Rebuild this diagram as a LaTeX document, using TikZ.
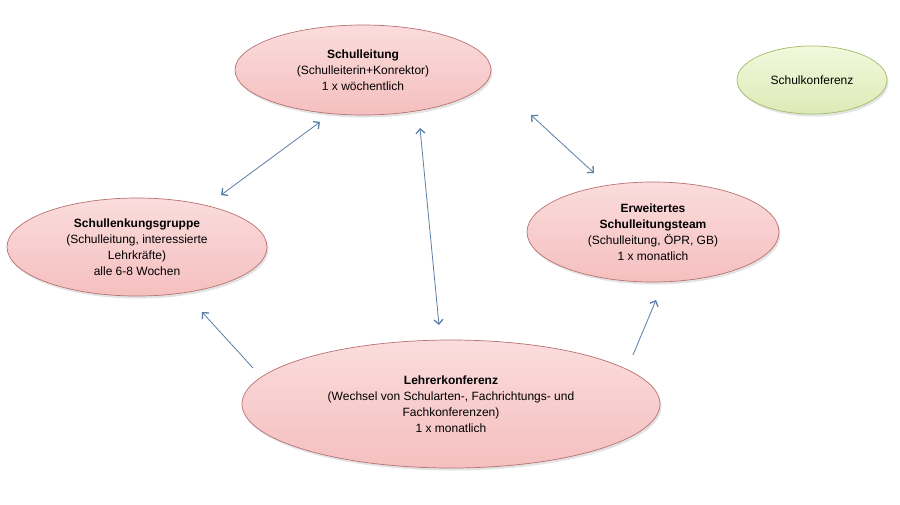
\documentclass[tikz,border=0pt]{standalone}
\usepackage{fontspec}
\setmainfont{Liberation Sans}
\usetikzlibrary{shapes.geometric,arrows.meta,shadows,calc}
\definecolor{pinktop}{HTML}{FBDCDC}
\definecolor{pinkbot}{HTML}{F5BFBF}
\definecolor{pinkline}{HTML}{B87272}
\definecolor{greentop}{HTML}{F2F8DC}
\definecolor{greenbot}{HTML}{DDEAB6}
\definecolor{greenline}{HTML}{A3BC68}
\definecolor{arrowblue}{HTML}{5A7EA6}
\tikzset{
  ell/.style={ellipse, inner sep=0pt, align=center, line width=0.7pt,
    font=\fontsize{12}{16}\selectfont,
    drop shadow={shadow xshift=1.5pt, shadow yshift=-2.5pt, opacity=0.22}},
  pinkell/.style={ell, draw=pinkline, top color=pinktop, bottom color=pinkbot},
  greenell/.style={ell, draw=greenline, top color=greentop, bottom color=greenbot},
  dblarr/.style={draw=arrowblue, line width=0.8pt, {Straight Barb[length=4.5pt,width=9pt,line width=1.3pt]}-{Straight Barb[length=4.5pt,width=9pt,line width=1.3pt]}},
  sglarr/.style={draw=arrowblue, line width=0.8pt, -{Straight Barb[length=4.5pt,width=9pt,line width=1.3pt]}}
}
\begin{document}
\begin{tikzpicture}[x=1pt,y=-1pt]
\useasboundingbox[fill=white] (0,0) rectangle (900,504);
\node[pinkell, minimum width=256pt, minimum height=90pt] (sl) at (363,70)
  {\textbf{Schulleitung}\\(Schulleiterin+Konrektor)\\1 x wöchentlich};
\node[greenell, minimum width=150pt, minimum height=68pt] (sk) at (812,80)
  {Schulkonferenz};
\node[pinkell, minimum width=260pt, minimum height=98pt] (slg) at (137,247)
  {\textbf{Schullenkungsgruppe}\\(Schulleitung, interessierte\\Lehrkräfte)\\alle 6-8 Wochen};
\node[pinkell, minimum width=252pt, minimum height=100pt] (ews) at (653,232)
  {\textbf{Erweitertes}\\\textbf{Schulleitungsteam}\\(Schulleitung, ÖPR, GB)\\1 x monatlich};
\node[pinkell, minimum width=418pt, minimum height=128pt] (lk) at (451,404)
  {\textbf{Lehrerkonferenz}\\(Wechsel von Schularten-, Fachrichtungs- und\\Fachkonferenzen)\\1 x monatlich};
\draw[dblarr] ($(slg.center)+(84,-52)$) -- ($(sl.center)+(-43,52)$);
\draw[dblarr] ($(sl.center)+(57,58)$) -- ($(lk.center)+(-12,-79)$);
\draw[dblarr] ($(sl.center)+(168,45)$) -- ($(ews.center)+(-59,-59)$);
\draw[sglarr] ($(lk.center)+(-198,-36)$) -- ($(slg.center)+(65,65)$);
\draw[sglarr] ($(lk.center)+(182,-49)$) -- ($(ews.center)+(3,68)$);
\end{tikzpicture}
\end{document}
